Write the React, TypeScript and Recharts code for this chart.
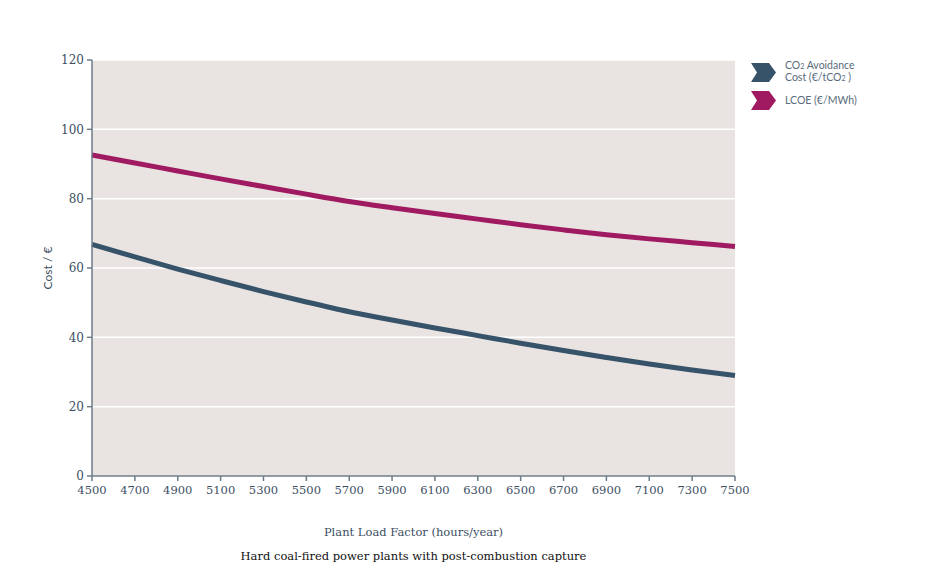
import { LineChart, Line, XAxis, YAxis, CartesianGrid, Label } from 'recharts'

const loadFactors = [4500, 4700, 4900, 5100, 5300, 5500, 5700, 5900, 6100, 6300, 6500, 6700, 6900, 7100, 7300, 7500]
const co2AvoidanceCost = [66.8, 63.2, 59.7, 56.4, 53.2, 50.2, 47.4, 45.0, 42.7, 40.5, 38.3, 36.2, 34.2, 32.3, 30.6, 29.0]
const lcoe = [92.6, 90.3, 88.0, 85.7, 83.5, 81.3, 79.2, 77.4, 75.7, 74.1, 72.5, 71.0, 69.6, 68.4, 67.3, 66.2]
const yTicks = [0, 20, 40, 60, 80, 100, 120]

const CO2_COLOR = '#37536a'
const LCOE_COLOR = '#9f1a60'
const AXIS_COLOR = '#3d4f63'
const SERIF = '"DejaVu Serif", serif'

const data = loadFactors.map((x, i) => ({ x, co2: co2AvoidanceCost[i], lcoe: lcoe[i] }))

const Chevron = ({ color }: { color: string }) => (
  <svg width={26} height={19} style={{ flexShrink: 0 }}>
    <polygon points="0,0 18,0 25,9.5 18,19 0,19 6,9.5" fill={color} />
  </svg>
)

// legend drawn outside the chart so it doesn't eat plot width
const ChartLegend = () => (
  <div
    style={{
      position: 'absolute',
      left: 751,
      top: 60,
      fontFamily: 'Lato, sans-serif',
      fontSize: 10.5,
      color: '#5a6b7b',
      lineHeight: '11px',
    }}
  >
    <div style={{ display: 'flex', alignItems: 'center', gap: 8, marginBottom: 7 }}>
      <Chevron color={CO2_COLOR} />
      <div>
        CO<span style={{ fontSize: 7 }}>2</span> Avoidance
        <br />
        Cost (€/tCO<span style={{ fontSize: 7 }}>2</span> )
      </div>
    </div>
    <div style={{ display: 'flex', alignItems: 'center', gap: 8 }}>
      <Chevron color={LCOE_COLOR} />
      <div>LCOE (€/MWh)</div>
    </div>
  </div>
)

export default function App() {
  return (
    <div style={{ position: 'absolute', left: 0, top: 0, width: 949, height: 587, background: '#fff' }}>
      <LineChart width={949} height={587} data={data} margin={{ top: 60, right: 214, bottom: 81, left: 32 }}>
        <CartesianGrid vertical={false} stroke="#ffffff" strokeWidth={1.5} fill="#e9e4e2" />
        <XAxis
          dataKey="x"
          type="number"
          domain={[4500, 7500]}
          ticks={loadFactors}
          interval={0}
          height={30}
          stroke="#6d7b88"
          strokeWidth={1.5}
          tickSize={5}
          tickMargin={5}
          tick={{ fill: AXIS_COLOR, fontFamily: SERIF, fontSize: 11.5 }}
        >
          <Label
            value="Plant Load Factor (hours/year)"
            position="bottom"
            offset={22}
            style={{ fill: AXIS_COLOR, fontFamily: SERIF, fontSize: 11.5 }}
          />
        </XAxis>
        <YAxis
          domain={[0, 120]}
          ticks={yTicks}
          width={60}
          stroke="#6d7b88"
          strokeWidth={1.5}
          tickSize={5}
          tickMargin={3}
          tick={{ fill: AXIS_COLOR, fontFamily: SERIF, fontSize: 12 }}
        >
          <Label
            value="Cost / €"
            angle={-90}
            position="insideLeft"
            offset={16}
            style={{ fill: AXIS_COLOR, fontFamily: 'Lato, sans-serif', fontSize: 12, textAnchor: 'middle' }}
          />
        </YAxis>
        <Line
          type="monotone"
          dataKey="co2"
          stroke={CO2_COLOR}
          strokeWidth={5}
          dot={false}
          isAnimationActive={false}
        />
        <Line
          type="monotone"
          dataKey="lcoe"
          stroke={LCOE_COLOR}
          strokeWidth={5}
          dot={false}
          isAnimationActive={false}
        />
      </LineChart>
      <ChartLegend />
      <div
        style={{
          position: 'absolute',
          left: 92,
          width: 643,
          top: 549,
          textAlign: 'center',
          fontFamily: SERIF,
          fontSize: 11.5,
          color: '#111',
        }}
      >
        Hard coal-fired power plants with post-combustion capture
      </div>
    </div>
  )
}
